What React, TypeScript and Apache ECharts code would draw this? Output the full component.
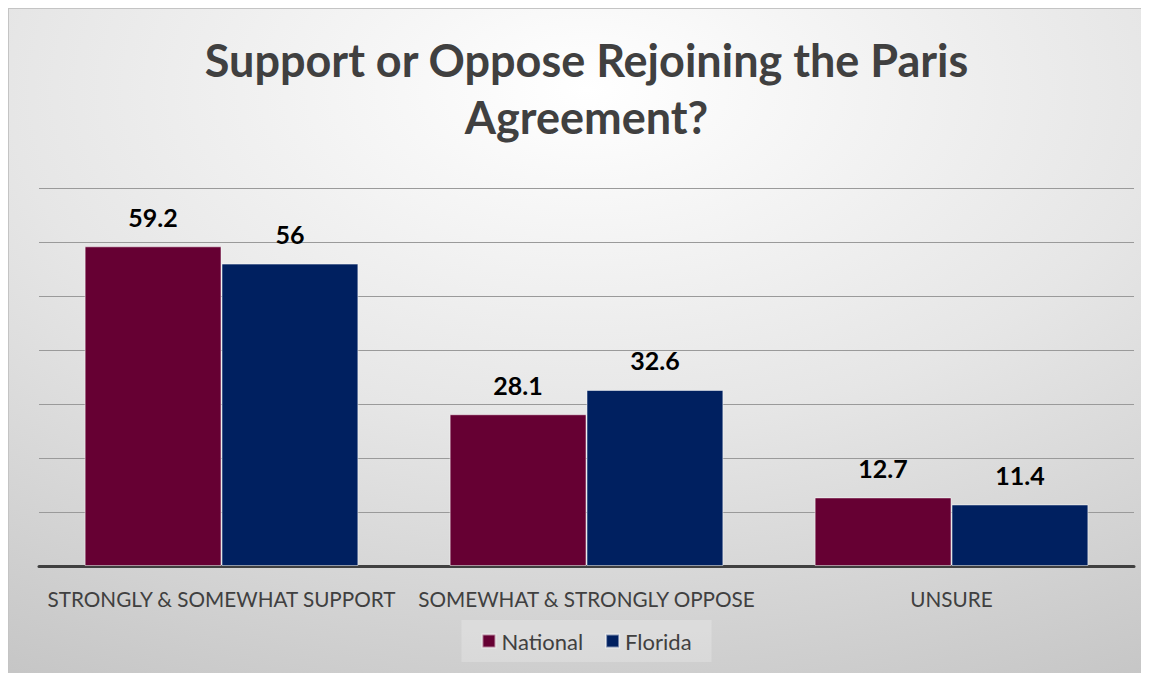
import React, { useEffect, useRef } from "react";
import * as echarts from "echarts";

const categories = ["STRONGLY & SOMEWHAT SUPPORT", "SOMEWHAT & STRONGLY OPPOSE", "UNSURE"];
const nationalValues = [59.2, 28.1, 12.7];
const floridaValues = [56, 32.6, 11.4];
const seriesNames = ["National", "Florida"];
const titleText = "Support or Oppose Rejoining the Paris\nAgreement?";

export default function App() {
  const ref = useRef<HTMLDivElement>(null);
  useEffect(() => {
    if (!ref.current) return;
    const chart = echarts.init(ref.current, null, { renderer: "svg" });
    const labelStyle = {
      show: true,
      position: "top" as const,
      distance: 17,
      fontFamily: "Lato",
      fontWeight: "bold" as const,
      fontSize: 25,
      color: "#000000",
    };
    chart.setOption({
      animation: false,
      backgroundColor: new echarts.graphic.RadialGradient(0.5, 0.12, 1.0, [
        { offset: 0, color: "#ffffff" },
        { offset: 0.5, color: "#e6e6e6" },
        { offset: 1, color: "#c6c6c6" },
      ]),
      title: {
        text: titleText,
        left: "center",
        top: 17,
        textStyle: {
          fontFamily: "Lato",
          fontWeight: "bold",
          fontSize: 45,
          lineHeight: 57,
          color: "#404040",
        },
      },
      legend: {
        data: seriesNames,
        left: "center",
        top: 611,
        itemWidth: 13,
        itemHeight: 13,
        itemGap: 22,
        icon: "rect",
        padding: [10, 20, 10, 20],
        backgroundColor: "rgba(255,255,255,0.22)",
        textStyle: { fontFamily: "Lato", fontSize: 22, color: "#404040", padding: [0, 0, 0, 1] },
      },
      grid: { left: 30, right: 30, top: 179, bottom: 113, containLabel: false },
      xAxis: {
        type: "category",
        data: categories,
        axisTick: { show: false },
        axisLine: { show: true, lineStyle: { color: "#404040", width: 3 } },
        axisLabel: { interval: 0, fontFamily: "Lato", fontSize: 20.7, color: "#404040", margin: 22 },
      },
      yAxis: {
        type: "value",
        min: 0,
        max: 70,
        interval: 10,
        axisLabel: { show: false },
        axisLine: { show: false },
        axisTick: { show: false },
        splitLine: { lineStyle: { color: "#9a9a9a", width: 1 } },
      },
      series: [
        {
          name: seriesNames[0],
          type: "bar",
          data: nationalValues,
          barGap: "0%",
          barCategoryGap: "25%",
          itemStyle: { color: "#660033", borderColor: "rgba(255,255,255,0.5)", borderWidth: 1 },
          label: labelStyle,
        },
        {
          name: seriesNames[1],
          type: "bar",
          data: floridaValues,
          barGap: "0%",
          barCategoryGap: "25%",
          itemStyle: { color: "#002060", borderColor: "rgba(255,255,255,0.5)", borderWidth: 1 },
          label: labelStyle,
        },
      ],
    });
    return () => chart.dispose();
  }, []);
  return (
    <div
      style={{
        width: 1141,
        height: 665,
        overflow: "hidden",
        boxSizing: "border-box",
        borderTop: "1px solid #c4c4c4",
        borderLeft: "1px solid #c4c4c4",
      }}
    >
      <div ref={ref} style={{ width: 1155, height: 670 }} />
    </div>
  );
}
